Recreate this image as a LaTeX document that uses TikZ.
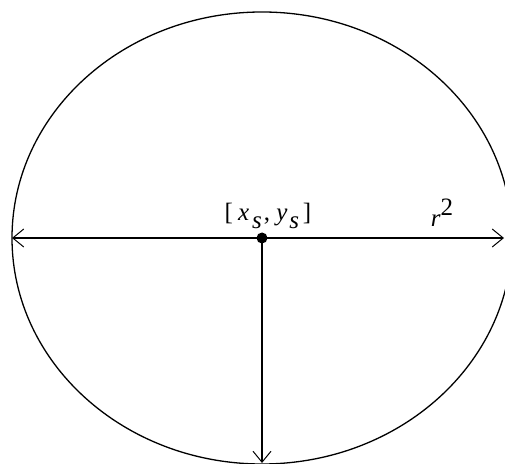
\documentclass[tikz,border=0pt]{standalone}
\usepackage{fontspec}
\setmainfont{Liberation Serif}
\usetikzlibrary{arrows.meta}
\begin{document}
\begin{tikzpicture}[x=1pt,y=1pt,line width=1.3pt,
  arr/.style={-{Straight Barb[length=11pt,width=18pt,line width=1pt]}},
  lbl/.style={font=\fontsize{25}{29}\selectfont, inner sep=0pt, anchor=base}]
\useasboundingbox (0,0) rectangle (505,463);
\clip (0,0) rectangle (505,463);
\draw (262,225) ellipse [x radius=250, y radius=226];
\coordinate (c) at (262,225);
\coordinate (l) at (12,225);
\coordinate (r) at (504,225);
\coordinate (b) at (262,0);
\draw[arr] (c) -- (l);
\draw[arr] (c) -- (r);
\draw[arr] (c) -- (b);
\fill (c) circle (5.5);
\node[lbl] (pos) at (268,242) {[\kern0.2em\textit{x}\kern0.12em\raisebox{-0.3em}{\textit{s}}\kern0.08em, \textit{y}\kern0.08em\raisebox{-0.3em}{\textit{s}}\kern0.15em]};
\node[lbl] (rad) at (442,236) {\textit{r}\raisebox{0.45em}{2}};
\end{tikzpicture}
\end{document}
